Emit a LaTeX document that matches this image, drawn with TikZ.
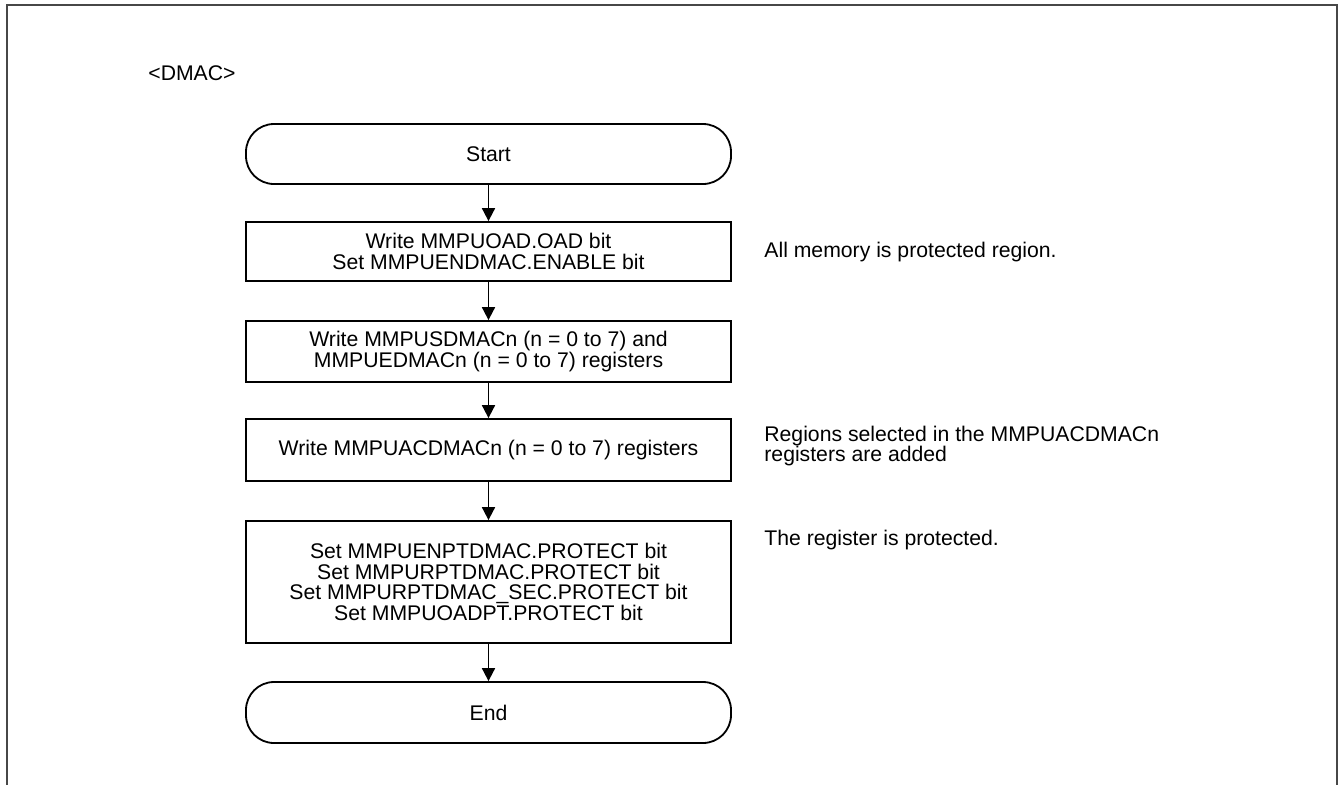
\documentclass[tikz,border=0pt]{standalone}
\usepackage{fontspec}
\setmainfont{Liberation Sans}
\usetikzlibrary{arrows.meta}
\begin{document}
\begin{tikzpicture}[x=0.5pt,y=-0.5pt,
  every node/.style={font=\fontsize{10.6pt}{10.4pt}\selectfont, inner sep=0pt},
  stepbox/.style={draw, line width=0.9pt, minimum width=242.5pt, align=center},
  termbox/.style={draw, line width=0.9pt, minimum width=242.5pt, minimum height=30pt, rounded corners=14pt, align=center},
  flow/.style={line width=0.9pt, -{Triangle[length=6.5pt,width=6.5pt]}},
  note/.style={align=left}]
\useasboundingbox (0,0) rectangle (1341,784);
\draw[line width=1.2pt, color=black!72] (7,790) -- (7,5) -- (1337,5) -- (1337,790);
\node[anchor=base west] (title) at (148,80) {<DMAC>};
\node[termbox] (start) at (488.5,154) {Start};
\node[stepbox, minimum height=29.5pt] (b1) at (488.5,251.5) {Write MMPUOAD.OAD bit\\Set MMPUENDMAC.ENABLE bit};
\node[stepbox, minimum height=30.5pt] (b2) at (488.5,351.5) {Write MMPUSDMACn (n = 0 to 7) and\\MMPUEDMACn (n = 0 to 7) registers};
\node[stepbox, minimum height=31pt] (b3) at (488.5,450) {Write MMPUACDMACn (n = 0 to 7) registers};
\node[stepbox, minimum height=61pt] (b4) at (488.5,582) {Set MMPUENPTDMAC.PROTECT bit\\Set MMPURPTDMAC.PROTECT bit\\Set MMPURPTDMAC\_SEC.PROTECT bit\\Set MMPUOADPT.PROTECT bit};
\node[termbox, minimum height=30.5pt] (end) at (488.5,712.5) {End};
\draw[flow] (start) -- (b1);
\draw[flow] (b1) -- (b2);
\draw[flow] (b2) -- (b3);
\draw[flow] (b3) -- (b4);
\draw[flow] (b4) -- (end);
\node[anchor=base west] (n1) at (764,257) {All memory is protected region.};
\node[note, anchor=west] (n3) at (764,446) {Regions selected in the MMPUACDMACn\\registers are added};
\node[anchor=base west] (n4) at (764,545) {The register is protected.};
\end{tikzpicture}
\end{document}
